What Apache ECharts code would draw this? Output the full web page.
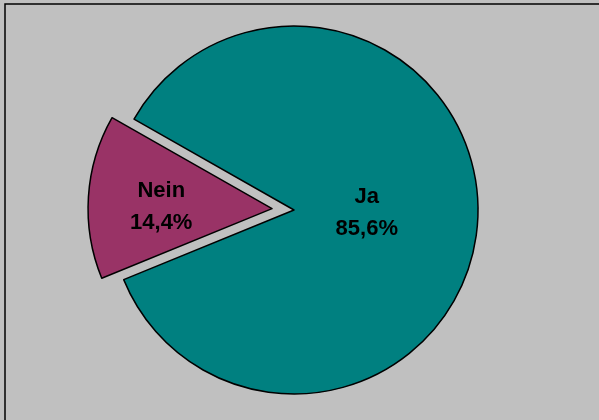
<!DOCTYPE html>
<html>
<head>
<meta charset="utf-8">
<script src="https://cdn.jsdelivr.net/npm/echarts@6/dist/echarts.min.js"></script>
<style>
html,body{margin:0;padding:0;background:#C0C0C0;}
#chart{width:599px;height:420px;}
</style>
</head>
<body>
<div id="chart"></div>
<script>
var categories = ['Ja', 'Nein'];
var values = [85.6, 14.4];
var percentLabels = ['85,6%', '14,4%'];
var colors = ['#008080', '#993366'];

var chart = echarts.init(document.getElementById('chart'), null, {renderer: 'canvas'});
var labelShift = {Ja: [-22, -3], Nein: [-16, 4]};
var data = categories.map(function (c, i) {
  return {
    name: c,
    value: values[i],
    selected: c === 'Nein',
    itemStyle: {color: colors[i]},
    label: {offset: labelShift[c]},
    select: {label: {offset: labelShift[c]}}
  };
});
chart.setOption({
  backgroundColor: '#C0C0C0',
  animation: false,
  graphic: [{
    type: 'rect',
    shape: {x: 5, y: 4, width: 700, height: 500},
    style: {fill: 'none', stroke: '#000', lineWidth: 1.5},
    silent: true
  }],
  series: [{
    type: 'pie',
    center: [294, 210],
    radius: [0, 184],
    startAngle: 150.4,
    clockwise: true,
    selectedMode: 'single',
    selectedOffset: 22,
    emphasis: {disabled: true},
    itemStyle: {borderColor: '#000', borderWidth: 1.5},
    label: {
      show: true,
      position: 'inside',
      formatter: function (p) { return p.name + '\n' + percentLabels[p.dataIndex]; },
      fontFamily: 'Liberation Sans, Arial, sans-serif',
      fontWeight: 'bold',
      fontSize: 22,
      lineHeight: 32,
      color: '#000'
    },
    labelLine: {show: false},
    data: data
  }]
});
</script>
</body>
</html>
